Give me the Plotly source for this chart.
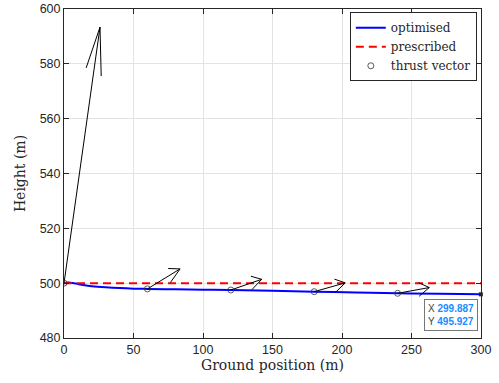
import numpy as np
import plotly.graph_objects as go

# optimised trajectory
opt_x = [0, 3, 6, 10, 15, 20, 30, 40, 50, 60, 80, 100, 120, 150, 180, 210, 240, 270, 299.887]
opt_y = [500.0, 500.2, 500.1, 499.7, 499.2, 498.9, 498.5, 498.2, 498.0, 497.9, 497.75, 497.6, 497.5, 497.2, 496.9, 496.6, 496.3, 496.1, 495.927]

# prescribed trajectory
pre_x = [0, 300]
pre_y = [500, 500]

# thrust vectors (origin and scaled components)
tv_x = [0, 60, 120, 180, 240]
tv_y = [500.0, 497.9, 497.5, 496.9, 496.3]
tv_u = [25.9, 23.5, 22.2, 22.3, 22.8]
tv_v = [93.4, 7.3, 3.9, 3.2, 2.1]

# data tip
tip_x = 299.887
tip_y = 495.927

x_ticks = [0, 50, 100, 150, 200, 250, 300]
y_ticks = [480, 500, 520, 540, 560, 580, 600]

# quiver geometry (MATLAB-style arrow heads)
beta = 0.33
qx, qy = [], []
for x0, y0, u, v in zip(tv_x, tv_y, tv_u, tv_v):
    L = np.hypot(u, v)
    a = min(0.33, 17.0 / L)
    tx, ty = x0 + u, y0 + v
    qx += [x0, tx, None]
    qy += [y0, ty, None]
    qx += [tx - a * (u + beta * v), tx, tx - a * (u - beta * v), None]
    qy += [ty - a * (v - beta * u), ty, ty - a * (v + beta * u), None]

SERIF = "DejaVu Serif"

fig = go.Figure()
fig.add_trace(go.Scatter(x=opt_x, y=opt_y, mode="lines", name="optimised",
                         line=dict(color="#0000ff", width=2), line_shape="spline"))
fig.add_trace(go.Scatter(x=pre_x, y=pre_y, mode="lines", name="prescribed",
                         line=dict(color="#ff0000", width=2, dash="8px,5px")))
fig.add_trace(go.Scatter(x=qx, y=qy, mode="lines", showlegend=False,
                         line=dict(color="black", width=1), hoverinfo="skip"))
fig.add_trace(go.Scatter(x=tv_x, y=tv_y, mode="markers", name="thrust vector",
                         marker=dict(symbol="circle-open", size=6, color="#333333",
                                     line=dict(width=0.8, color="#333333"))))
fig.add_trace(go.Scatter(x=[tip_x], y=[tip_y], mode="markers", showlegend=False,
                         marker=dict(symbol="square", size=4, color="#222222"), cliponaxis=False))

fig.add_annotation(x=tip_x, y=tip_y, xref="x", yref="y", showarrow=False,
                   xanchor="right", yanchor="top", xshift=-3, yshift=-5,
                   align="left",
                   text="<span style='color:#444'>X</span> <b><span style='color:#1a8cff'>299.887</span></b><br>"
                        "<span style='color:#444'>Y</span> <b><span style='color:#1a8cff'>495.927</span></b>",
                   font=dict(family="Liberation Sans", size=10),
                   bgcolor="white", bordercolor="#777777", borderwidth=1, borderpad=3)

axis_common = dict(showline=True, linecolor="#262626", linewidth=1, mirror="ticks",
                   ticks="inside", ticklen=5, tickcolor="#262626", automargin=False,
                   showgrid=True, gridcolor="#e3e3e3", gridwidth=1, zeroline=False,
                   tickfont=dict(family="Liberation Sans", size=12.5, color="#262626"))

fig.update_layout(
    width=499, height=383,
    margin=dict(l=64, r=18, t=9, b=45),
    paper_bgcolor="white", plot_bgcolor="white",
    xaxis=dict(range=[0, 300], tickvals=x_ticks,
               title=dict(text="Ground position (m)", standoff=2,
                          font=dict(family=SERIF, size=14, color="#262626")),
               **axis_common),
    yaxis=dict(range=[480, 600], tickvals=y_ticks,
               title=dict(text="Height (m)", standoff=10,
                          font=dict(family=SERIF, size=14, color="#262626")),
               **axis_common),
    legend=dict(x=0.99, y=0.99, xanchor="right", yanchor="top",
                bgcolor="white", bordercolor="#262626", borderwidth=1,
                font=dict(family=SERIF, size=12, color="#262626"),
                tracegroupgap=0, itemwidth=30),
    showlegend=True,
)

fig.write_html("out.html", post_script="document.body.style.margin='0px';",
               config={"displayModeBar": False})
